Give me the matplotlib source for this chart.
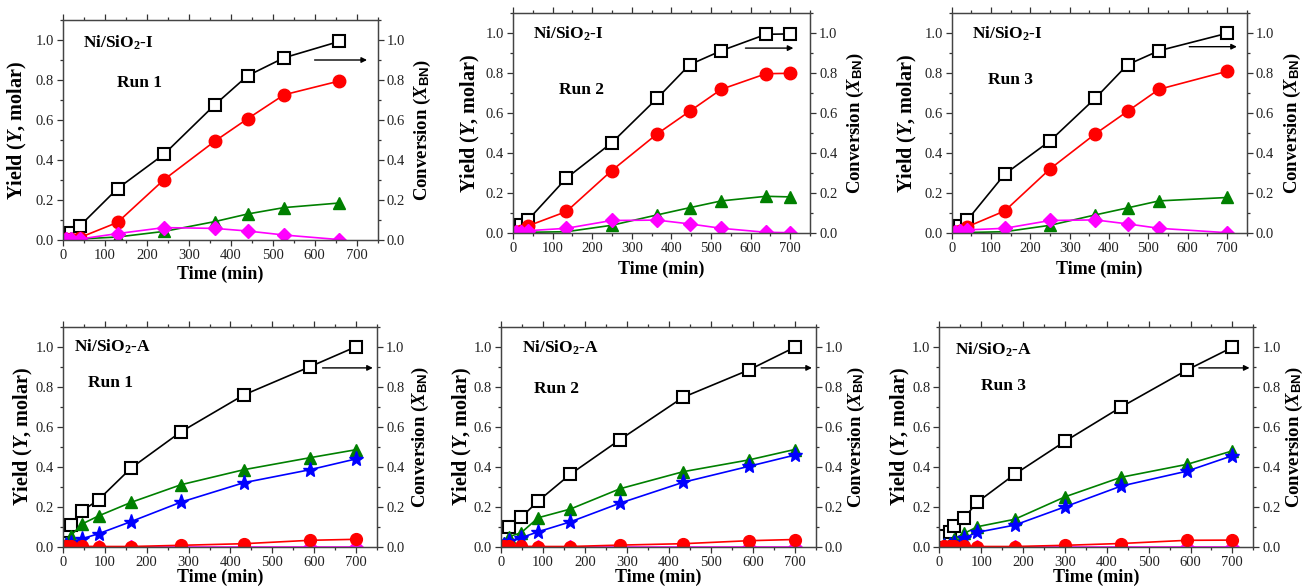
import matplotlib
matplotlib.use("Agg")
import matplotlib.pyplot as plt
from matplotlib.ticker import MultipleLocator

plt.rcParams['font.family'] = ['Liberation Serif', 'DejaVu Serif']
plt.rcParams['mathtext.fontset'] = 'custom'
plt.rcParams['mathtext.rm'] = 'Liberation Serif:bold'
plt.rcParams['mathtext.it'] = 'Liberation Serif:italic:bold'
plt.rcParams['mathtext.bf'] = 'Liberation Serif:bold'
plt.rcParams['mathtext.sf'] = 'Liberation Sans:bold'

# ---------------- data ----------------
# Ni/SiO2-I, Run 1
t_I1 = [8, 18, 40, 130, 241, 362, 440, 527, 659]
conv_I1 = [0.01, 0.035, 0.07, 0.257, 0.429, 0.676, 0.821, 0.911, 0.993]
red_I1 = [0.005, 0.005, 0.012, 0.088, 0.302, 0.494, 0.606, 0.726, 0.795]
green_I1 = [0.003, 0.01, 0.005, 0.015, 0.043, 0.092, 0.13, 0.162, 0.185]
mag_I1 = [0.005, 0.005, 0.005, 0.032, 0.062, 0.058, 0.045, 0.025, 0.002]

# Ni/SiO2-I, Run 2
t_I2 = [8, 20, 38, 135, 249, 364, 446, 526, 639, 700]
conv_I2 = [0.01, 0.04, 0.067, 0.276, 0.452, 0.675, 0.843, 0.913, 0.995, 0.997]
red_I2 = [0.005, 0.01, 0.037, 0.109, 0.313, 0.497, 0.61, 0.72, 0.798, 0.8]
green_I2 = [0.002, 0.003, 0.005, 0.008, 0.04, 0.092, 0.128, 0.162, 0.185, 0.182]
mag_I2 = [0.005, 0.008, 0.013, 0.025, 0.064, 0.066, 0.047, 0.025, 0.005, 0.003]

# Ni/SiO2-I, Run 3
t_I3 = [9, 20, 40, 135, 250, 365, 447, 527, 700]
conv_I3 = [0.015, 0.035, 0.067, 0.296, 0.462, 0.675, 0.843, 0.913, 1.0]
red_I3 = [0.005, 0.01, 0.033, 0.112, 0.322, 0.497, 0.61, 0.72, 0.81]
green_I3 = [0.002, 0.003, 0.004, 0.008, 0.04, 0.092, 0.127, 0.162, 0.179]
mag_I3 = [0.008, 0.01, 0.017, 0.025, 0.064, 0.067, 0.047, 0.025, 0.003]

# Ni/SiO2-A, Run 1
t_A1 = [8, 18, 46, 85, 163, 282, 432, 590, 700]
conv_A1 = [0.079, 0.107, 0.179, 0.235, 0.394, 0.575, 0.759, 0.9, 1.0]
green_A1 = [0.02, 0.054, 0.114, 0.154, 0.222, 0.31, 0.385, 0.445, 0.485]
blue_A1 = [0.01, 0.02, 0.04, 0.065, 0.126, 0.223, 0.32, 0.385, 0.439]
red_A1 = [0.003, 0.003, 0.002, 0.001, 0.001, 0.007, 0.015, 0.032, 0.037]
mag_A1 = [0, 0, 0, 0, 0, 0, 0, 0, 0]

# Ni/SiO2-A, Run 2
t_A2 = [8, 19, 48, 89, 165, 284, 434, 591, 700]
conv_A2 = [0.06, 0.099, 0.147, 0.229, 0.362, 0.536, 0.747, 0.884, 0.997]
green_A2 = [0.02, 0.05, 0.07, 0.145, 0.188, 0.29, 0.375, 0.434, 0.486]
blue_A2 = [0.01, 0.028, 0.045, 0.075, 0.124, 0.218, 0.322, 0.402, 0.458]
red_A2 = [0.003, 0.003, 0.002, 0.001, 0.001, 0.008, 0.015, 0.03, 0.036]
mag_A2 = [0, 0, 0, 0, 0, 0, 0, 0, 0]

# Ni/SiO2-A, Run 3
t_A3 = [11, 25, 36, 60, 91, 180, 301, 434, 592, 700]
conv_A3 = [0.055, 0.075, 0.104, 0.146, 0.223, 0.362, 0.528, 0.698, 0.884, 0.997]
green_A3 = [0.012, 0.02, 0.04, 0.067, 0.1, 0.137, 0.25, 0.347, 0.412, 0.479]
blue_A3 = [0.005, 0.01, 0.017, 0.045, 0.072, 0.108, 0.2, 0.303, 0.378, 0.455]
red_A3 = [0.003, 0.003, 0.003, 0.002, 0.001, 0.001, 0.007, 0.016, 0.032, 0.033]
mag_A3 = [0, 0, 0, 0, 0, 0, 0, 0, 0, 0]

catalyst_labels = ['Ni/SiO$_{2}$-I', 'Ni/SiO$_{2}$-A']
run_labels = ['Run 1', 'Run 2', 'Run 3']
xticks = [0, 100, 200, 300, 400, 500, 600, 700]
yticks = [0.0, 0.2, 0.4, 0.6, 0.8, 1.0]

# ---------------- layout ----------------
W, H = 1305, 587
fig = plt.figure(figsize=(W / 100, H / 100), dpi=100)


def box(l, r, t, b):
    return [l / W, (H - b) / H, (r - l) / W, (b - t) / H]


panels = [
    dict(pos=box(63, 377.5, 20, 240), cat=0, run=0, ylp=46, yrp=45, xlp=34,
         cat_xy=(0.064, 0.895), run_xy=(0.172, 0.714), arrow=(600, 725, 0.90)),
    dict(pos=box(513, 810, 13.3, 233.3), cat=0, run=1, ylp=43, yrp=45, xlp=36,
         cat_xy=(0.067, 0.906), run_xy=(0.155, 0.651), arrow=(587, 708, 0.926)),
    dict(pos=box(951.7, 1246.7, 13.3, 233.3), cat=0, run=2, ylp=44, yrp=46, xlp=36,
         cat_xy=(0.068, 0.906), run_xy=(0.124, 0.697), arrow=(604, 725, 0.933)),
    dict(pos=box(63, 377, 326.7, 546.7), cat=1, run=0, ylp=40, yrp=43, xlp=31,
         cat_xy=(0.035, 0.909), run_xy=(0.081, 0.743), arrow=(620, 740, 0.894)),
    dict(pos=box(501, 815.7, 326.7, 546.7), cat=1, run=1, ylp=39, yrp=41, xlp=31,
         cat_xy=(0.066, 0.902), run_xy=(0.106, 0.717), arrow=(620, 741, 0.894)),
    dict(pos=box(939.3, 1253.3, 326.7, 546.7), cat=1, run=2, ylp=39, yrp=41, xlp=31,
         cat_xy=(0.05, 0.897), run_xy=(0.133, 0.732), arrow=(620, 741, 0.894)),
]

tick_col = '#333333'
lw = 1.2

sq = dict(marker='s', mfc='white', mec='black', mew=1.5, color='black', lw=lw)
rc = dict(marker='o', color='red', mfc='red', mec='red', lw=lw)
gt = dict(marker='^', color='green', mfc='green', mec='green', lw=lw)
md = dict(marker='D', color='magenta', mfc='magenta', mec='magenta', lw=lw)
bs = dict(marker='*', color='blue', mfc='blue', mec='blue', lw=lw)

top_series = [(t_I1, conv_I1, red_I1, green_I1, mag_I1),
              (t_I2, conv_I2, red_I2, green_I2, mag_I2),
              (t_I3, conv_I3, red_I3, green_I3, mag_I3)]
bot_series = [(t_A1, conv_A1, green_A1, blue_A1, red_A1, mag_A1),
              (t_A2, conv_A2, green_A2, blue_A2, red_A2, mag_A2),
              (t_A3, conv_A3, green_A3, blue_A3, red_A3, mag_A3)]

for i, p in enumerate(panels):
    ax = fig.add_axes(p['pos'])
    axw = p['pos'][2] * W
    axh = p['pos'][3] * H
    if p['cat'] == 0:
        t, cv, rd, gr, mg = top_series[p['run']]
        ax.plot(t, cv, ms=9, **sq)
        ax.plot(t, rd, ms=9, **rc)
        ax.plot(t, gr, ms=9, **gt)
        ax.plot(t, mg, ms=7.5, **md)
    else:
        t, cv, gr, bl, rd, mg = bot_series[p['run']]
        ax.plot(t, cv, ms=8, **sq)
        ax.plot(t, gr, ms=9, **gt)
        ax.plot(t, bl, ms=11, **bs)
        ax.plot(t, mg, ms=7, **md)
        ax.plot(t, rd, ms=8.5, **rc)

    ax.set_xlim(0, 750)
    ax.set_ylim(0, 1.1)
    ax.set_xticks(xticks)
    ax.set_yticks(yticks)
    ax.set_yticklabels(['%.1f' % v for v in yticks])
    ax.xaxis.set_minor_locator(MultipleLocator(50))
    ax.yaxis.set_minor_locator(MultipleLocator(0.1))
    ax.tick_params(which='both', direction='out', top=True, right=False,
                   colors=tick_col, labelcolor='#222222', labelsize=10.5, width=0.9, pad=2.5)
    ax.tick_params(which='major', length=4)
    ax.tick_params(which='minor', length=2.5)
    for s in ax.spines.values():
        s.set_color('#444444')
        s.set_linewidth(0.9)

    ax.set_xlabel('Time (min)', fontsize=13, fontweight='bold', va='center')
    ax.xaxis.set_label_coords(0.5, -p['xlp'] / axh)
    ax.set_ylabel('Yield ($Y$, molar)', fontsize=14.5, fontweight='bold', va='center')
    ax.yaxis.set_label_coords(-p['ylp'] / axw, 0.5)

    ax2 = ax.twinx()
    ax2.set_ylim(0, 1.1)
    ax2.set_yticks(yticks)
    ax2.set_yticklabels(['%.1f' % v for v in yticks])
    ax2.yaxis.set_minor_locator(MultipleLocator(0.1))
    ax2.tick_params(which='both', direction='out', colors=tick_col,
                    labelcolor='#222222', labelsize=10.5, width=0.9, pad=2.5)
    ax2.tick_params(which='major', length=4)
    ax2.tick_params(which='minor', length=2.5)
    for s in ax2.spines.values():
        s.set_color('#444444')
        s.set_linewidth(0.9)
    ax2.set_ylabel('Conversion ($X_{\\mathsf{BN}}$)', fontsize=13.5, fontweight='bold', va='center')
    ax2.yaxis.set_label_coords(1 + p['yrp'] / axw, 0.5)

    ax.text(p['cat_xy'][0], p['cat_xy'][1], catalyst_labels[p['cat']], transform=ax.transAxes,
            fontsize=12.5, fontweight='bold', ha='left', va='center')
    ax.text(p['run_xy'][0], p['run_xy'][1], run_labels[p['run']], transform=ax.transAxes,
            fontsize=12.5, fontweight='bold', ha='left', va='center')

    x0, x1, ya = p['arrow']
    ax.annotate('', xy=(x1, ya), xytext=(x0, ya), xycoords='data',
                arrowprops=dict(arrowstyle='-|>', color='black', lw=1.0,
                                mutation_scale=8, shrinkA=0, shrinkB=0),
                annotation_clip=False)

fig.savefig('out.png', dpi=100)
